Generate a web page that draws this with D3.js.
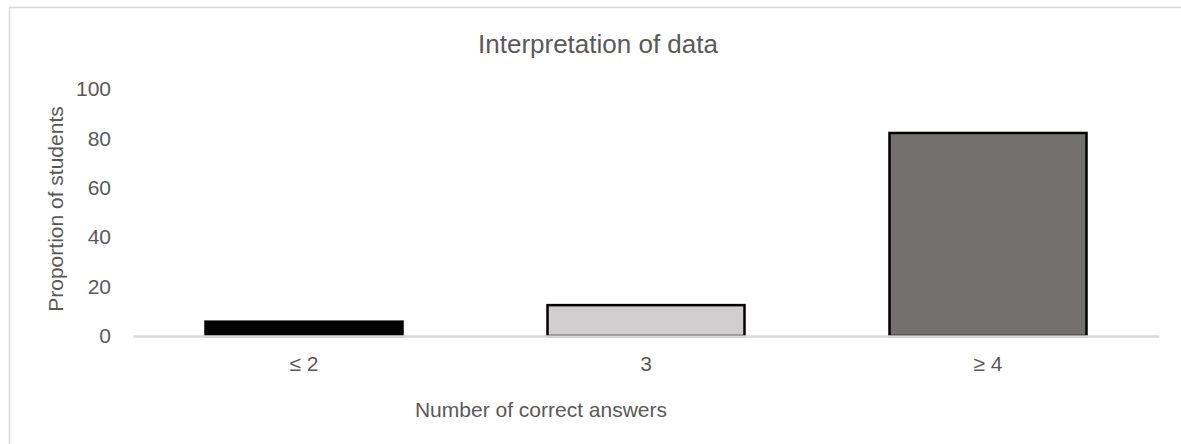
<!DOCTYPE html>
<html>
<head>
<meta charset="utf-8">
<script src="https://cdn.jsdelivr.net/npm/d3@7"></script>
<style>
  body { margin: 0; background: #fff; }
  svg { display: block; font-family: "Liberation Sans", Arial, sans-serif; }
</style>
</head>
<body>
<svg id="chart" width="1181" height="444"></svg>
<script>
const categories = ["≤ 2", "3", "≥ 4"];
const values = [5.8, 12.5, 82.2];
const fills = ["#000000", "#d0cece", "#747070"];
const yTicks = [0, 20, 40, 60, 80, 100];
const title = "Interpretation of data";
const xTitle = "Number of correct answers";
const yTitle = "Proportion of students";

const svg = d3.select("#chart");

// outer chart border
svg.append("rect")
  .attr("x", 9.5).attr("y", 7.5)
  .attr("width", 1200).attr("height", 500)
  .attr("fill", "none").attr("stroke", "#d9d9d9").attr("stroke-width", 1.5);

const x = d3.scaleBand().domain(categories).range([133, 1159])
  .paddingInner(0.424).paddingOuter(0.212);
const y = d3.scaleLinear().domain([0, 100]).range([336, 89]);

// title
svg.append("text")
  .attr("x", 598).attr("y", 53)
  .attr("text-anchor", "middle")
  .attr("font-size", 26).attr("fill", "#595959")
  .text(title);

// y axis labels
const yAxis = d3.axisLeft(y).tickValues(yTicks).tickSize(0).tickPadding(0);
const gy = svg.append("g").attr("transform", "translate(111,0)").call(yAxis);
gy.select(".domain").remove();
gy.selectAll("text").attr("font-size", 21).attr("fill", "#595959")
  .attr("font-family", "'Liberation Sans', Arial, sans-serif");

// bars
svg.append("g").selectAll("rect").data(values).join("rect")
  .attr("x", (d, i) => x(categories[i]))
  .attr("y", d => y(d))
  .attr("width", x.bandwidth())
  .attr("height", d => y(0) - y(d))
  .attr("fill", (d, i) => fills[i])
  .attr("stroke", "#000").attr("stroke-width", 2.5);

// x axis
const xAxis = d3.axisBottom(x).tickSize(0).tickPadding(20);
const gx = svg.append("g").attr("transform", `translate(0,${y(0)})`).call(xAxis);
gx.select(".domain").attr("stroke", "#d9d9d9").attr("stroke-width", 2.5);
gx.selectAll("text").attr("font-size", 21).attr("fill", "#595959")
  .attr("font-family", "'Liberation Sans', Arial, sans-serif");

// axis titles
svg.append("text")
  .attr("x", 541).attr("y", 417)
  .attr("text-anchor", "middle")
  .attr("font-size", 21).attr("fill", "#595959")
  .text(xTitle);

svg.append("text")
  .attr("transform", "translate(63,209) rotate(-90)")
  .attr("text-anchor", "middle")
  .attr("font-size", 21).attr("fill", "#595959")
  .text(yTitle);
</script>
</body>
</html>
